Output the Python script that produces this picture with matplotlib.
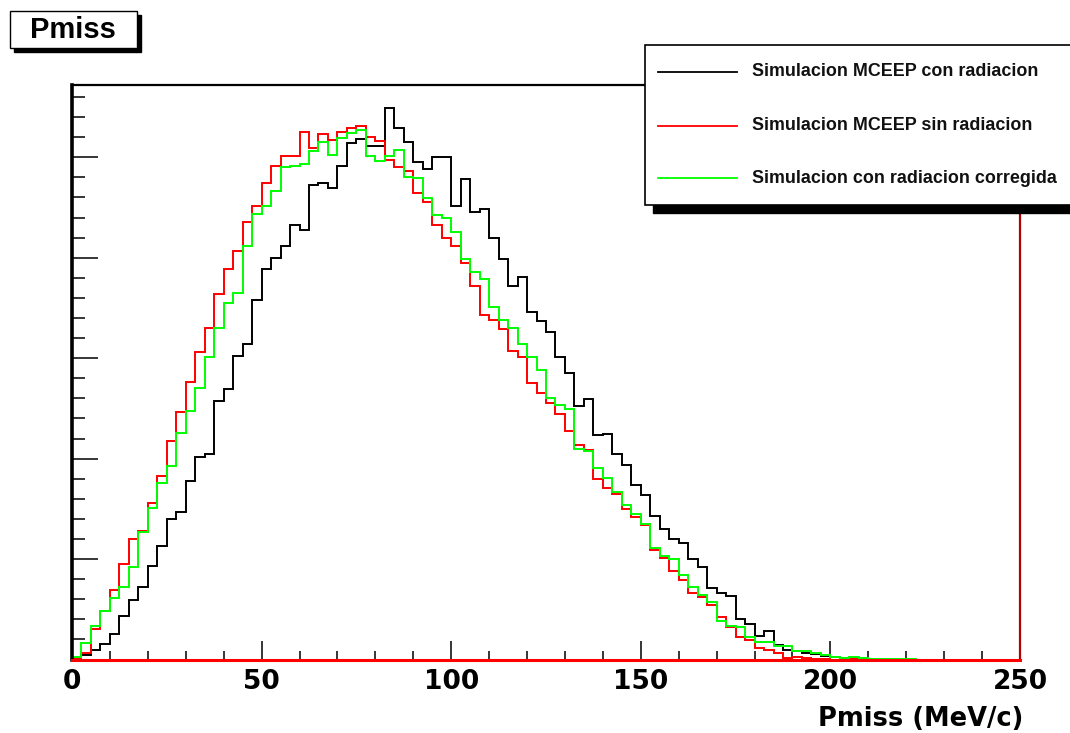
import numpy as np
import matplotlib
matplotlib.use("Agg")
import matplotlib.pyplot as plt
from matplotlib.patches import Rectangle
from matplotlib.lines import Line2D
from matplotlib.ticker import MultipleLocator

# ---------------- data (100 bins, 0..250 MeV/c, width 2.5) ----------------
x_min, x_max, n_bins = 0, 250, 100

black_con_radiacion = [
    1, 4, 9, 15.5, 25, 43, 59, 72, 93, 113,
    140, 147, 178, 202, 205, 257, 269, 302, 314, 358,
    389, 400, 412, 433, 428, 472, 474, 469, 491, 514,
    518, 511, 511, 549, 529, 515, 495, 488, 500, 500,
    452, 478, 446, 449, 420, 399, 372, 381, 346, 337,
    326, 301, 285, 252, 259, 224, 225, 205, 194, 174,
    164, 143, 130, 120, 116, 100, 92, 71, 66, 63,
    40, 35, 23, 28, 14, 9, 8, 6, 5, 3,
    2.3, 1, 0.5, 0.3, 0, 0, 0, 0, 0, 0,
    0, 0, 0, 0, 0, 0, 0, 0, 0, 0,
]

red_sin_radiacion = [
    1, 6, 30, 48, 69, 95, 120, 128, 156, 183,
    218, 246, 276, 306, 330, 364, 389, 407, 436, 452,
    474, 491, 501, 501, 525, 509, 523, 517, 525, 529,
    531, 520, 516, 497, 490, 486, 464, 456, 433, 420,
    412, 395, 372, 343, 338, 329, 307, 301, 275, 265,
    255, 244, 228, 214, 209, 180, 171, 165, 150, 142,
    134, 109, 101, 88, 79, 66, 62, 54, 42, 32,
    22, 19, 11, 9, 6, 1, 2, 1, 0.5, 0.5,
    0, 0, 1, 0.5, 0, 0, 0, 0, 0, 0,
    0, 0, 0, 0, 0, 0, 0, 0, 0, 0,
]

green_corregida = [
    2, 16, 33, 48, 61, 72, 92, 127, 151, 176,
    193, 226, 247, 270, 301, 330, 355, 365, 412, 444,
    452, 466, 490, 491, 493, 506, 515, 502, 519, 524,
    527, 501, 496, 501, 507, 480, 479, 459, 443, 440,
    426, 399, 386, 379, 351, 338, 330, 314, 301, 288,
    260, 253, 249, 210, 208, 191, 181, 167, 154, 145,
    135, 111, 103, 100, 84, 72, 64, 57, 38, 33,
    32, 22, 17, 17, 13, 13, 8, 8, 6, 4,
    2.3, 1.7, 2.3, 1.7, 0.8, 0.8, 0.8, 0.8, 0.8, 0,
    0, 0, 0, 0, 0, 0, 0, 0, 0, 0,
]

series_labels = [
    "Simulacion MCEEP con radiacion",
    "Simulacion MCEEP sin radiacion",
    "Simulacion con radiacion corregida",
]
series_colors = ["#000000", "#ff0000", "#00ff00"]
x_tick_values = [0, 50, 100, 150, 200, 250]
x_tick_labels = ["0", "50", "100", "150", "200", "250"]
title_text = "Pmiss"
x_label = "Pmiss (MeV/c)"

# ---------------- figure ----------------
W, H = 1070, 733
fig = plt.figure(figsize=(W / 100, H / 100), dpi=100)
fig.patch.set_facecolor("white")


def fx(px):
    return px / W


def fy(py):
    return 1 - py / H


ax_left, ax_right, ax_top, ax_bottom = 72, 1020, 85, 659.5
ax = fig.add_axes([fx(ax_left), fy(ax_bottom), fx(ax_right - ax_left),
                   (ax_bottom - ax_top) / H])

edges = np.linspace(x_min, x_max, n_bins + 1)
for vals, col, z in zip([black_con_radiacion, red_sin_radiacion, green_corregida],
                        series_colors, [2, 3, 4]):
    ax.stairs(vals, edges, baseline=0, color=col, lw=1.4, zorder=z)

ax.set_xlim(x_min, x_max)
ax.set_ylim(0, 572)

ax.set_xticks(x_tick_values)
ax.set_xticklabels(x_tick_labels, fontfamily="DejaVu Sans", fontweight="bold",
                   fontsize=19)
ax.xaxis.set_minor_locator(MultipleLocator(10))
ax.yaxis.set_major_locator(MultipleLocator(100))
ax.yaxis.set_minor_locator(MultipleLocator(20))
ax.tick_params(axis="x", which="major", direction="in", length=13.5, width=1.1,
               pad=7, top=False)
ax.tick_params(axis="x", which="minor", direction="in", length=6.5, width=1.1,
               top=False)
ax.tick_params(axis="y", which="major", direction="in", length=18.5, width=1.1,
               labelleft=False, right=False)
ax.tick_params(axis="y", which="minor", direction="in", length=9.5, width=1.1,
               right=False)

ax.spines["left"].set_linewidth(2.6)
ax.spines["left"].set_color("black")
ax.spines["top"].set_linewidth(1.6)
ax.spines["top"].set_color("black")
ax.spines["right"].set_linewidth(1.6)
ax.spines["right"].set_color("#b00000")
ax.spines["bottom"].set_linewidth(2.2)
ax.spines["bottom"].set_color("#ff0000")
for s in ax.spines.values():
    s.set_zorder(6)

# x-axis title (right aligned)
fig.text(fx(1023), fy(726), x_label, ha="right", va="baseline",
         fontfamily="DejaVu Sans", fontweight="bold", fontsize=18.5)

# ---------------- title box ----------------
fig.add_artist(Rectangle((fx(14), fy(52)), fx(127), 37 / H, transform=fig.transFigure,
                         facecolor="black", edgecolor="black", zorder=10))
fig.add_artist(Rectangle((fx(10), fy(48)), fx(127), 37 / H, transform=fig.transFigure,
                         facecolor="white", edgecolor="black", lw=1.0, zorder=11))
fig.text(fx(73), fy(29.5), title_text, ha="center", va="center",
         fontfamily="Liberation Sans", fontweight="bold", fontsize=21, zorder=12)

# ---------------- legend box ----------------
fig.add_artist(Rectangle((fx(653), fy(213)), fx(430), 160 / H, transform=fig.transFigure,
                         facecolor="black", edgecolor="black", zorder=10))
fig.add_artist(Rectangle((fx(645), fy(205)), fx(440), 160 / H, transform=fig.transFigure,
                         facecolor="white", edgecolor="black", lw=1.2, zorder=11))
entry_y = [71.7, 125.7, 178.3]
for lab, col, yy in zip(series_labels, series_colors, entry_y):
    fig.add_artist(Line2D([fx(658), fx(737)], [fy(yy), fy(yy)], color=col, lw=1.3,
                          transform=fig.transFigure, zorder=12))
    fig.text(fx(752), fy(yy), lab, ha="left", va="center",
             fontfamily="Liberation Sans", fontweight="bold", fontsize=12.9,
             color="#111111", zorder=12)

fig.savefig("out.png", dpi=100, facecolor="white")
